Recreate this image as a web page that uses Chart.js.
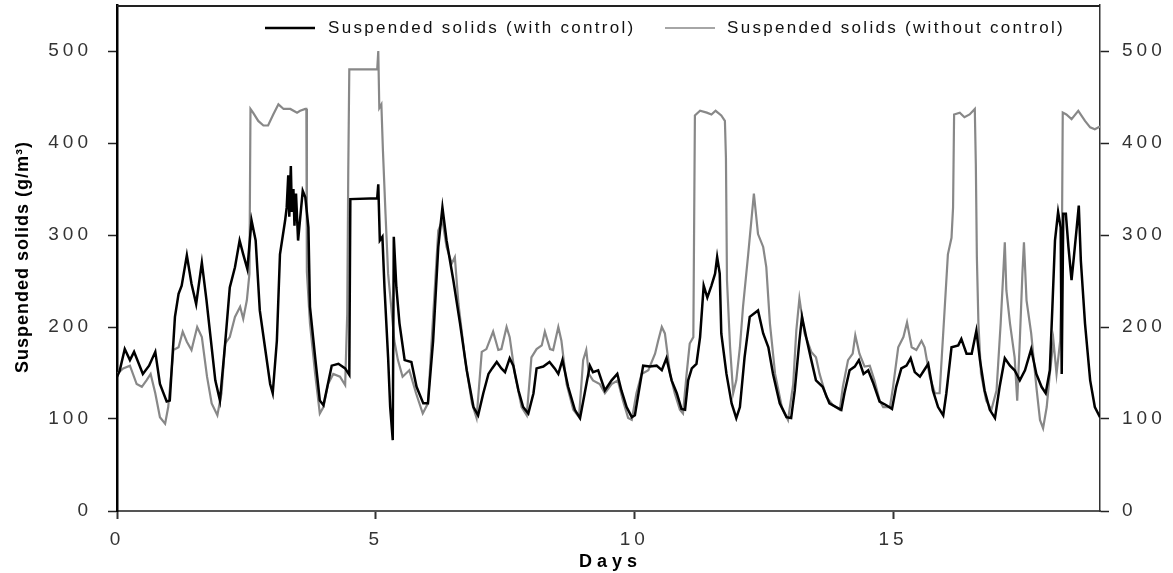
<!DOCTYPE html>
<html>
<head>
<meta charset="utf-8">
<title>Suspended solids</title>
<script src="https://cdn.jsdelivr.net/npm/chart.js@4.4.1/dist/chart.umd.min.js"></script>
<style>
  html, body { margin: 0; padding: 0; background: #fff; }
  canvas { display: block; }
</style>
</head>
<body>
<canvas id="chart" width="1173" height="573"></canvas>
<script>
const seriesLabels = ['Suspended solids (with control)', 'Suspended solids (without control)'];
const xTitle = 'Days';
const yTitle = 'Suspended solids (g/m³)';

// with control (black)
const ctrlDays = [0.00, 0.05, 0.15, 0.25, 0.33, 0.50, 0.62, 0.74, 0.83, 0.96, 1.02, 1.12, 1.19, 1.25, 1.35, 1.44, 1.53, 1.64, 1.73, 1.80,
  1.90, 1.99, 2.09, 2.18, 2.28, 2.37, 2.44, 2.52, 2.60, 2.68, 2.76, 2.86, 2.96, 3.01, 3.09, 3.15, 3.25, 3.28, 3.31, 3.33,
  3.36, 3.38, 3.41, 3.43, 3.46, 3.50, 3.59, 3.64, 3.70, 3.73, 3.83, 3.92, 3.99, 4.05, 4.15, 4.28, 4.41, 4.49, 4.51, 5.03,
  5.05, 5.08, 5.13, 5.17, 5.24, 5.28, 5.33, 5.35, 5.40, 5.46, 5.56, 5.69, 5.79, 5.92, 6.01, 6.11, 6.21, 6.29, 6.37, 6.50,
  6.63, 6.76, 6.89, 6.98, 7.08, 7.18, 7.25, 7.34, 7.43, 7.50, 7.59, 7.66, 7.76, 7.85, 7.95, 8.05, 8.11, 8.24, 8.36, 8.46,
  8.53, 8.61, 8.72, 8.85, 8.95, 9.04, 9.14, 9.20, 9.30, 9.43, 9.56, 9.67, 9.75, 9.85, 9.95, 10.01, 10.08, 10.17, 10.30, 10.43,
  10.53, 10.62, 10.72, 10.82, 10.91, 10.98, 11.04, 11.11, 11.20, 11.27, 11.34, 11.41, 11.49, 11.56, 11.60, 11.65, 11.68, 11.78, 11.88, 11.97,
  12.04, 12.13, 12.23, 12.39, 12.49, 12.59, 12.68, 12.81, 12.94, 13.03, 13.10, 13.19, 13.24, 13.32, 13.42, 13.51, 13.64, 13.77, 13.90, 14.00,
  14.06, 14.16, 14.26, 14.34, 14.43, 14.52, 14.61, 14.74, 14.87, 14.98, 15.06, 15.16, 15.26, 15.34, 15.42, 15.52, 15.60, 15.68, 15.77, 15.87,
  15.97, 16.03, 16.13, 16.26, 16.32, 16.42, 16.52, 16.61, 16.68, 16.77, 16.87, 16.97, 17.06, 17.16, 17.26, 17.35, 17.45, 17.55, 17.67, 17.77,
  17.87, 17.95, 18.03, 18.08, 18.13, 18.19, 18.24, 18.26, 18.29, 18.34, 18.39, 18.45, 18.50, 18.55, 18.59, 18.63, 18.71, 18.81, 18.90, 19.00];
const ctrlValues = [146, 152, 176, 164, 173, 149, 158, 173, 138, 119, 120, 211, 236, 245, 278, 247, 225, 270, 229, 193,
  142, 120, 182, 243, 265, 294, 279, 263, 316, 294, 218, 178, 138, 128, 185, 279, 316, 330, 365, 320,
  375, 325, 350, 310, 345, 294, 348, 341, 308, 222, 167, 120, 115, 131, 158, 160, 155, 148, 339, 340,
  355, 294, 298, 243, 167, 113, 77, 298, 243, 204, 164, 162, 135, 117, 117, 185, 287, 330, 294, 251,
  204, 153, 113, 104, 128, 149, 155, 162, 155, 151, 166, 158, 131, 113, 106, 128, 155, 157, 162, 155,
  149, 164, 135, 110, 101, 128, 158, 151, 153, 131, 142, 149, 131, 113, 102, 104, 128, 158, 157, 158,
  153, 166, 142, 128, 111, 110, 142, 155, 160, 189, 245, 232, 245, 258, 276, 258, 193, 149, 117, 101,
  113, 167, 211, 218, 193, 178, 149, 117, 102, 101, 131, 185, 211, 189, 164, 142, 135, 117, 113, 110,
  128, 153, 157, 164, 149, 153, 140, 119, 115, 111, 135, 155, 158, 166, 151, 146, 153, 160, 131, 113,
  104, 128, 178, 180, 187, 171, 171, 196, 164, 131, 110, 101, 135, 166, 158, 153, 142, 153, 176, 149,
  135, 128, 153, 222, 294, 325, 308, 149, 323, 323, 287, 251, 279, 308, 332, 272, 204, 142, 113, 102];

// without control (grey)
const noCtrlDays = [0.00, 0.12, 0.25, 0.38, 0.48, 0.57, 0.65, 0.74, 0.83, 0.93, 0.99, 1.09, 1.19, 1.27, 1.35, 1.44, 1.55, 1.64, 1.74, 1.83,
  1.94, 2.02, 2.09, 2.18, 2.28, 2.38, 2.44, 2.51, 2.56, 2.58, 2.63, 2.73, 2.83, 2.92, 3.02, 3.12, 3.22, 3.35, 3.48, 3.54,
  3.64, 3.66, 3.67, 3.73, 3.83, 3.92, 3.99, 4.08, 4.18, 4.31, 4.41, 4.45, 4.47, 4.49, 5.03, 5.05, 5.07, 5.11, 5.14, 5.19,
  5.24, 5.30, 5.36, 5.43, 5.52, 5.65, 5.78, 5.91, 6.01, 6.11, 6.21, 6.29, 6.37, 6.47, 6.53, 6.60, 6.73, 6.86, 6.95, 7.05,
  7.14, 7.27, 7.37, 7.43, 7.53, 7.59, 7.69, 7.82, 7.92, 8.01, 8.11, 8.21, 8.27, 8.37, 8.43, 8.53, 8.59, 8.69, 8.82, 8.93,
  9.01, 9.07, 9.12, 9.20, 9.33, 9.43, 9.56, 9.68, 9.78, 9.88, 9.95, 10.04, 10.14, 10.27, 10.40, 10.46, 10.53, 10.59, 10.69, 10.78,
  10.88, 10.94, 11.01, 11.07, 11.14, 11.17, 11.27, 11.40, 11.49, 11.57, 11.68, 11.75, 11.77, 11.79, 11.85, 11.91, 11.97, 12.04, 12.10, 12.20,
  12.31, 12.39, 12.49, 12.55, 12.62, 12.72, 12.85, 12.97, 13.07, 13.13, 13.19, 13.29, 13.42, 13.51, 13.58, 13.71, 13.84, 13.97, 14.03, 14.13,
  14.22, 14.27, 14.35, 14.45, 14.55, 14.64, 14.74, 14.81, 14.94, 15.00, 15.10, 15.20, 15.27, 15.36, 15.45, 15.55, 15.61, 15.71, 15.81, 15.90,
  16.00, 16.06, 16.13, 16.16, 16.18, 16.29, 16.38, 16.48, 16.58, 16.60, 16.62, 16.65, 16.70, 16.80, 16.90, 17.00, 17.08, 17.13, 17.16, 17.19,
  17.26, 17.35, 17.40, 17.45, 17.50, 17.53, 17.58, 17.67, 17.77, 17.84, 17.90, 17.97, 18.03, 18.10, 18.16, 18.23, 18.26, 18.28, 18.35, 18.45,
  18.58, 18.71, 18.81, 18.90, 19.00];
const noCtrlValues = [149, 155, 158, 138, 135, 142, 149, 128, 102, 95, 113, 175, 178, 195, 184, 175, 200, 189, 146, 117,
  104, 128, 182, 189, 211, 222, 209, 229, 258, 437, 433, 424, 419, 419, 431, 442, 437, 437, 433, 435,
  437, 437, 260, 204, 149, 106, 113, 138, 149, 146, 137, 214, 370, 480, 480, 500, 438, 442, 392, 323,
  258, 222, 185, 164, 146, 153, 128, 106, 117, 211, 305, 316, 287, 269, 276, 225, 164, 117, 101, 173,
  176, 195, 175, 176, 200, 189, 149, 113, 104, 167, 176, 180, 195, 176, 175, 200, 185, 138, 110, 102,
  164, 175, 149, 142, 138, 128, 138, 142, 120, 101, 99, 128, 149, 153, 171, 185, 200, 193, 149, 128,
  110, 106, 149, 182, 189, 430, 435, 433, 431, 435, 430, 424, 384, 251, 178, 128, 142, 178, 222, 279,
  345, 301, 287, 265, 204, 149, 113, 99, 138, 196, 231, 193, 173, 167, 149, 124, 115, 110, 135, 164,
  171, 191, 171, 157, 158, 142, 120, 113, 113, 135, 178, 189, 205, 178, 175, 185, 178, 146, 128, 128,
  222, 279, 297, 330, 431, 433, 428, 431, 437, 377, 276, 204, 149, 120, 110, 131, 204, 258, 292, 240,
  204, 167, 120, 185, 258, 292, 229, 193, 135, 99, 90, 113, 149, 185, 149, 185, 258, 433, 431, 426,
  435, 424, 417, 415, 418];

const xTicks = [0, 5, 10, 15];
const yTicks = [0, 100, 200, 300, 400, 500];

const seriesColors = ['#000000', '#888888'];
const FONT = "Arial, 'Liberation Sans', sans-serif";

const toPoints = (xs, ys) => xs.map((x, i) => ({ x: x, y: ys[i] }));

const textPlugin = {
    id: 'textPlugin',
    beforeDraw(chart) {
        // tick labels in the reference are letter-spaced
        chart.ctx.letterSpacing = '4px';
    },
    afterDraw(chart) {
        const ctx = chart.ctx;
        const a = chart.chartArea;
        ctx.save();
        ctx.setLineDash([]);
        ctx.globalAlpha = 1;

        // frame top line
        ctx.strokeStyle = '#222';
        ctx.lineWidth = 2;
        ctx.beginPath();
        ctx.moveTo(a.left, a.top + 1);
        ctx.lineTo(a.right, a.top + 1);
        ctx.stroke();

        // legend inside the plot
        const legendItems = [
            { lineX: 265, textX: 328, width: 2.5 },
            { lineX: 665, textX: 727, width: 1.5 }
        ];
        ctx.font = '17px ' + FONT;
        ctx.letterSpacing = '2.3px';
        ctx.textBaseline = 'middle';
        ctx.textAlign = 'left';
        ctx.fillStyle = '#111';
        legendItems.forEach((item, i) => {
            ctx.strokeStyle = seriesColors[i];
            ctx.lineWidth = item.width;
            ctx.beginPath();
            ctx.moveTo(item.lineX, 28);
            ctx.lineTo(item.lineX + 50, 28);
            ctx.stroke();
            ctx.fillText(seriesLabels[i], item.textX, 28);
        });

        // x title
        ctx.font = 'bold 18px ' + FONT;
        ctx.letterSpacing = '5px';
        ctx.textAlign = 'center';
        ctx.fillStyle = '#000';
        ctx.fillText(xTitle, (a.left + a.right) / 2 + 2, 562);

        // y title
        ctx.translate(23, 257);
        ctx.rotate(-Math.PI / 2);
        ctx.letterSpacing = '1px';
        ctx.fillText(yTitle, 0, 0);

        ctx.restore();
    }
};

// fixed box sizes so the plot area lands where the reference has it
const noPadding = (scale) => {
    scale.paddingTop = 0;
    scale.paddingBottom = 0;
    scale.paddingLeft = 0;
    scale.paddingRight = 0;
};

const yAxis = (position, width, padding, borderColor, borderWidth) => ({
    type: 'linear',
    position: position,
    min: 0,
    max: 550,
    afterFit: (scale) => { scale.width = width; noPadding(scale); },
    afterBuildTicks: (scale) => { scale.ticks = yTicks.map(v => ({ value: v })); },
    ticks: {
        color: '#333',
        padding: padding,
        font: { family: FONT, size: 19 }
    },
    grid: {
        drawOnChartArea: false,
        drawTicks: true,
        tickLength: 9,
        tickColor: '#222',
        tickWidth: 1.5
    },
    border: { color: borderColor, width: borderWidth }
});

new Chart(document.getElementById('chart').getContext('2d'), {
    type: 'line',
    data: {
        datasets: [{
            label: seriesLabels[0],
            data: toPoints(ctrlDays, ctrlValues),
            borderColor: seriesColors[0],
            borderWidth: 2.5,
            pointRadius: 0,
            tension: 0,
            yAxisID: 'y'
        }, {
            label: seriesLabels[1],
            data: toPoints(noCtrlDays, noCtrlValues),
            borderColor: seriesColors[1],
            borderWidth: 2.2,
            pointRadius: 0,
            tension: 0,
            yAxisID: 'y'
        }]
    },
    options: {
        responsive: false,
        devicePixelRatio: 1,
        animation: false,
        layout: { padding: { top: 5, left: 0, right: 0, bottom: 0 } },
        plugins: {
            legend: { display: false },
            tooltip: { enabled: false }
        },
        scales: {
            x: {
                type: 'linear',
                min: 0,
                max: 19,
                afterFit: (scale) => { scale.height = 62; noPadding(scale); },
                afterBuildTicks: (scale) => { scale.ticks = xTicks.map(v => ({ value: v })); },
                ticks: {
                    color: '#333',
                    padding: 9,
                    maxRotation: 0,
                    font: { family: FONT, size: 19 }
                },
                grid: {
                    drawOnChartArea: false,
                    drawTicks: true,
                    tickLength: 8,
                    tickColor: '#333',
                    tickWidth: 2
                },
                border: { color: '#555', width: 2 }
            },
            y: yAxis('left', 117, 16, '#000', 2.5),
            y2: yAxis('right', 73, 13, '#333', 1.5)
        }
    },
    plugins: [textPlugin]
});
</script>
</body>
</html>
